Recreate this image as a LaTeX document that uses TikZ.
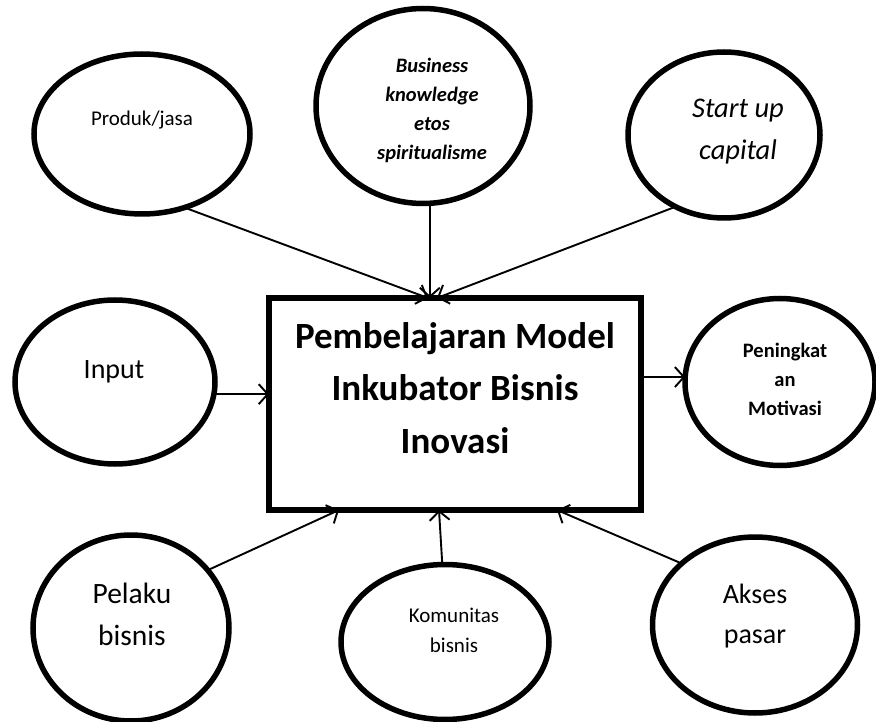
\documentclass[tikz,border=0pt]{standalone}
\usepackage{fontspec}
\setmainfont{Carlito}
\usetikzlibrary{arrows.meta,shapes.geometric,calc}
\begin{document}
\begin{tikzpicture}[x=1pt,y=-1pt,
  ell/.style={draw,ellipse,line width=5.5pt,inner sep=0pt,outer sep=0pt},
  bigbox/.style={draw,rectangle,line width=5.5pt,inner sep=0pt,outer sep=0pt},
  arr/.style={line width=1.9pt,-{Straight Barb[length=9pt,width=20pt]}},
  txt/.style={align=center,inner sep=0pt,anchor=base}
]
\useasboundingbox (0,0) rectangle (876,722);
% main box
\node[bigbox,minimum width=372pt,minimum height=212pt] (box) at (455,404) {};
\node[txt,font=\bfseries\fontsize{37}{52.5}\selectfont] (boxT) at (455,453)
  {Pembelajaran Model\\Inkubator Bisnis\\Inovasi};
% ellipses
\node[ell,minimum width=216pt,minimum height=160pt] (prod) at (142,134) {};
\node[ell,minimum width=214pt,minimum height=195pt] (bus) at (423,106) {};
\node[ell,minimum width=192pt,minimum height=166pt] (start) at (724,135) {};
\node[ell,minimum width=200pt,minimum height=164pt] (inp) at (115,382) {};
\node[ell,minimum width=190pt,minimum height=167pt] (pen) at (780,382) {};
\node[ell,minimum width=196pt,minimum height=186pt] (pel) at (131,628) {};
\node[ell,minimum width=208pt,minimum height=155pt] (kom) at (445,642) {};
\node[ell,minimum width=205pt,minimum height=176pt] (aks) at (755,625) {};
% texts
\node[txt,font=\fontsize{21}{25}\selectfont] (prodT) at (142,126) {Produk/jasa};
\node[txt,font=\bfseries\itshape\fontsize{20.5}{29.3}\selectfont] (busT) at (432,160)
  {Business\\knowledge\\etos\\spiritualisme};
\node[txt,font=\itshape\fontsize{28.5}{42}\selectfont] (startT) at (738,160) {Start up\\capital};
\node[txt,font=\fontsize{28}{34}\selectfont] (inpT) at (114,378) {Input};
\node[txt,font=\bfseries\fontsize{20.5}{29}\selectfont] (penT) at (785,415) {Peningkat\\an\\Motivasi};
\node[txt,font=\fontsize{29.5}{42}\selectfont] (pelT) at (132,645) {Pelaku\\bisnis};
\node[txt,font=\fontsize{21}{30}\selectfont] (komT) at (454,652) {Komunitas\\bisnis};
\node[txt,font=\fontsize{28}{40}\selectfont] (aksT) at (755,643) {Akses\\pasar};
% connectors
\draw[arr] (prod.-60) -- ($(box.north)+(-27,0)$);
\draw[arr] (bus.-86) -- (bus.-86 |- box.north);
\draw[arr] (start.-124) -- ($(box.north)+(-18,0)$);
\draw[arr] (inp.-7) -- (inp.-7 -| box.west);
\draw[arr] (pen.177 -| box.east) -- (pen.177);
\draw[arr] (pel.37) -- ($(box.south west)+(70,0)$);
\draw[arr] (kom.92) -- ($(box.south)+(-16,0)$);
\draw[arr] (aks.140) -- ($(box.south east)+(-84,0)$);
\end{tikzpicture}
\end{document}
